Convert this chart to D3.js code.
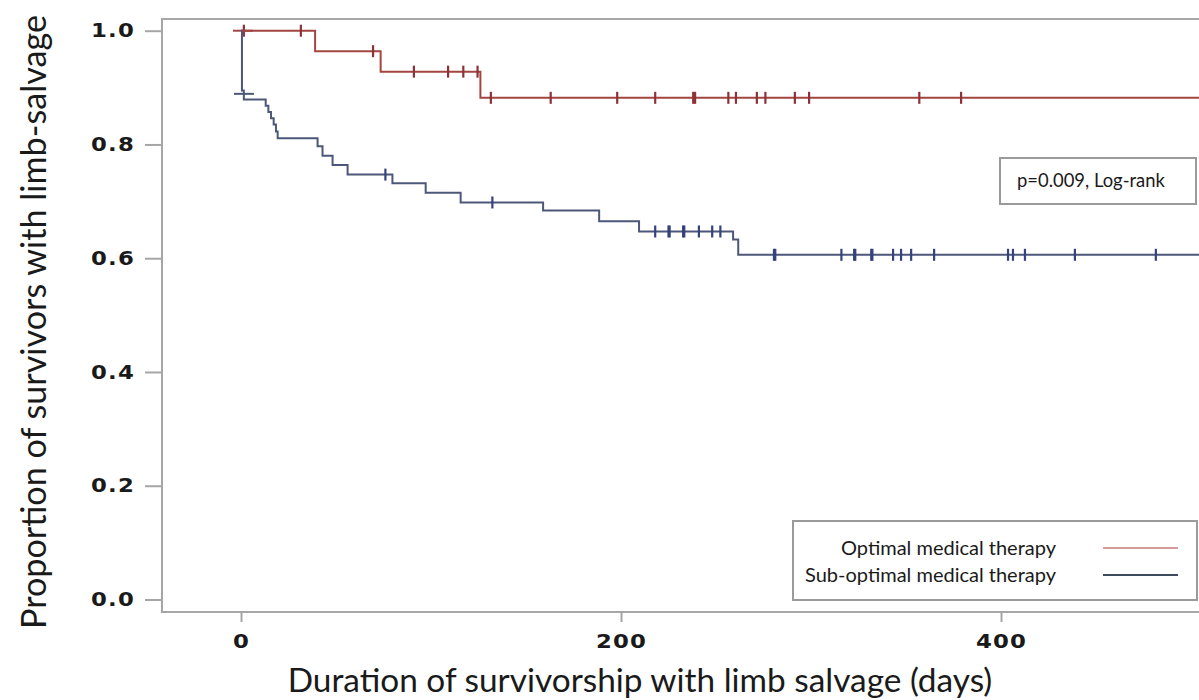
<!DOCTYPE html>
<html>
<head>
<meta charset="utf-8">
<script src="https://cdn.jsdelivr.net/npm/d3@7"></script>
<style>
	body { margin: 0; background: #fff; }
	.km-chart text { fill: #1a1a1a; }
</style>
</head>
<body>
<div class="km-chart"></div>
<script>
// survival steps: [day, proportion after the event]
const optimalSteps = [
	[0, 1.0], [39, 0.964], [73.5, 0.928], [126, 0.882]
];
const optimalCensored = [1.5, 31.5, 69.5, 91, 109, 117, 124.5, 131.5, 163, 198, 218, 238, 239,
	256.5, 260.5, 271.5, 276, 291.5, 299, 357, 379];
const optimalCross = [[0, 1.0]];

const suboptimalSteps = [
	[0, 1.0], [0.5, 0.895], [1.5, 0.879], [13, 0.868], [14.4, 0.857], [15.8, 0.846], [17.2, 0.835],
	[18.4, 0.823], [19.3, 0.811], [40.3, 0.797], [42.9, 0.78], [48.2, 0.764], [56.1, 0.747],
	[79.7, 0.732], [97.2, 0.715], [115.6, 0.698], [159, 0.684], [188.5, 0.665], [209.5, 0.647],
	[259, 0.633], [261.7, 0.606]
];
const suboptimalCensored = [76, 132.3, 218, 225, 225.6, 232.7, 233.3, 241, 248, 252.3, 280.5, 281.2,
	316, 322.7, 323.3, 331.7, 332.3, 343.2, 347.4, 352.7, 364.8, 403.7, 406.3, 412.6, 438.9, 481.5];
const suboptimalCross = [[0.5, 0.889]];

const lastDay = 505;
const xTicks = [0, 200, 400];
const yTicks = [0, 0.2, 0.4, 0.6, 0.8, 1.0];

const seriesNames = ["Optimal medical therapy", "Sub-optimal medical therapy"];
const pValueText = "p=0.009, Log-rank";

(function() {

	const width = 1199,
		height = 700;

	const frame = {left: 162, top: 19, right: 1215, bottom: 612};
	const titleFont = "Lato, sans-serif";

	const colors = {
		opt: "#a3463f", optMark: "#8c3238", optLegend: "#d59c9c",
		sub: "#4c5779", subMark: "#34427e", subLegend: "#3e4a5e",
		frame: "#a6a6a6"
	};

	const x = d3.scaleLinear()
		.domain([0, 400])
		.range([241, 1001]);

	const y = d3.scaleLinear()
		.domain([0, 1])
		.range([599.5, 30.7]);

	const svg = d3.select(".km-chart").append("svg")
		.attr("width", width)
		.attr("height", height);

	svg.append("rect")
		.attr("x", frame.left)
		.attr("y", frame.top)
		.attr("width", frame.right - frame.left)
		.attr("height", frame.bottom - frame.top)
		.attr("fill", "none")
		.attr("stroke", colors.frame)
		.attr("stroke-width", 2);

	const tickScale = 1.2;

	const yAxis = d3.axisLeft(y)
		.tickValues(yTicks)
		.tickFormat(d3.format(".1f"))
		.tickSize(17)
		.tickPadding(10);

	const gy = svg.append("g")
		.attr("class", "y axis")
		.attr("transform", "translate(" + frame.left + ",0)")
		.call(yAxis);

	const xAxis = d3.axisBottom(x)
		.tickValues(xTicks)
		.tickFormat(d3.format("d"))
		.tickSize(10)
		.tickPadding(13);

	const gx = svg.append("g")
		.attr("class", "x axis")
		.attr("transform", "translate(0," + frame.bottom + ")")
		.call(xAxis);

	[gx, gy].forEach(g => {
		g.select(".domain").remove();
		g.selectAll(".tick line")
			.attr("stroke", colors.frame)
			.attr("stroke-width", 2);
		g.selectAll(".tick text")
			.style("font-family", "'DejaVu Sans'")
			.style("font-weight", "bold")
			.style("font-size", "19px")
			.style("letter-spacing", "1px")
			.attr("fill", "#1e1e1e");
	});

	gy.selectAll(".tick text")
		.attr("x", -27 / tickScale)
		.attr("transform", "scale(" + tickScale + ",1)");
	gx.selectAll(".tick text")
		.attr("transform", "scale(" + tickScale + ",1)");

	function fitText(sel, target) {
		const len = sel.node().getComputedTextLength();
		const size = parseFloat(sel.style("font-size"));
		sel.style("font-size", (size * target / len) + "px");
	}

	const yTitle = svg.append("text")
		.attr("transform", "translate(34,322) rotate(-90)")
		.attr("text-anchor", "middle")
		.attr("dy", ".35em")
		.style("font-family", titleFont)
		.style("font-size", "28px")
		.text("Proportion of survivors with limb-salvage");
	fitText(yTitle, 614);

	const xTitle = svg.append("text")
		.attr("x", 640)
		.attr("y", 692)
		.attr("text-anchor", "middle")
		.style("font-family", titleFont)
		.style("font-size", "28px")
		.text("Duration of survivorship with limb salvage (days)");
	fitText(xTitle, 705);

	// Kaplan-Meier step curves
	function survivalAt(steps, t) {
		let s = steps[0][1];
		steps.forEach(d => { if (d[0] <= t) s = d[1]; });
		return s;
	}

	const line = d3.line()
		.x(d => x(d[0]))
		.y(d => y(d[1]))
		.curve(d3.curveStepAfter);

	const curves = [
		{steps: optimalSteps, censored: optimalCensored, cross: optimalCross, color: colors.opt, mark: colors.optMark},
		{steps: suboptimalSteps, censored: suboptimalCensored, cross: suboptimalCross, color: colors.sub, mark: colors.subMark}
	];

	curves.forEach(c => {
		const pts = c.steps.concat([[lastDay, c.steps[c.steps.length - 1][1]]]);
		svg.append("path")
			.datum(pts)
			.attr("fill", "none")
			.attr("stroke", c.color)
			.attr("stroke-width", 2)
			.attr("d", line);

		svg.append("g")
			.selectAll("line")
			.data(c.censored)
			.enter().append("line")
			.attr("x1", d => x(d))
			.attr("x2", d => x(d))
			.attr("y1", d => y(survivalAt(c.steps, d)) - 6)
			.attr("y2", d => y(survivalAt(c.steps, d)) + 6)
			.attr("stroke", c.mark)
			.attr("stroke-width", 2.2);

		// short horizontal stub drawn at the start
		svg.append("g")
			.selectAll("line")
			.data(c.cross)
			.enter().append("line")
			.attr("x1", d => x(d[0]) - 8)
			.attr("x2", d => x(d[0]) + 12)
			.attr("y1", d => y(d[1]))
			.attr("y2", d => y(d[1]))
			.attr("stroke", c.color)
			.attr("stroke-width", 2);
	});

	// p-value box
	svg.append("rect")
		.attr("x", 1000)
		.attr("y", 158)
		.attr("width", 196)
		.attr("height", 46)
		.attr("fill", "#fff")
		.attr("stroke", "#9a9a9a")
		.attr("stroke-width", 2);

	const pText = svg.append("text")
		.attr("x", 1017)
		.attr("y", 181)
		.attr("dy", ".35em")
		.style("font-family", "Lato")
		.style("font-size", "15px")
		.text(pValueText);
	fitText(pText, 148);

	// legend
	svg.append("rect")
		.attr("x", 793)
		.attr("y", 521)
		.attr("width", 404)
		.attr("height", 79)
		.attr("fill", "#fff")
		.attr("stroke", "#9a9a9a")
		.attr("stroke-width", 2);

	const legendColors = [colors.optLegend, colors.subLegend];

	const legendRow = svg.selectAll(".legendRow")
		.data(seriesNames)
		.enter().append("g")
		.attr("class", "legendRow")
		.attr("transform", (d, i) => "translate(0," + (548 + i * 27) + ")");

	legendRow.append("text")
		.attr("x", 1056)
		.attr("dy", ".35em")
		.attr("text-anchor", "end")
		.style("font-family", "Lato")
		.style("font-size", "17px")
		.text(d => d);

	legendRow.append("line")
		.attr("x1", 1103)
		.attr("x2", 1178)
		.attr("stroke", (d, i) => legendColors[i])
		.attr("stroke-width", 2);

	const subLabel = legendRow.filter((d, i) => i === 1).select("text");
	const ratio = 251 / subLabel.node().getComputedTextLength();
	legendRow.selectAll("text").style("font-size", (17 * ratio) + "px");

})();
</script>
</body>
</html>
